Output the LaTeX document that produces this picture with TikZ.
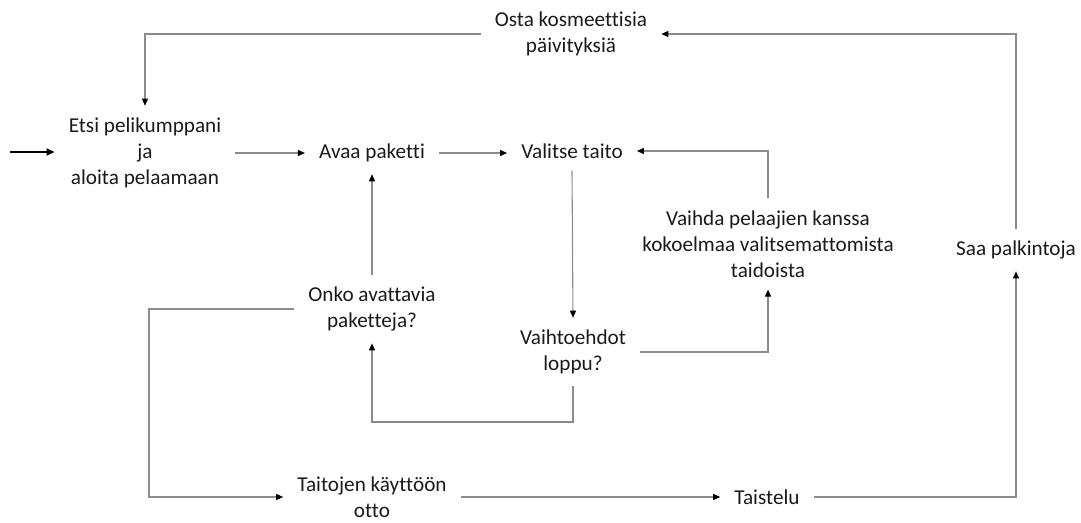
\documentclass[tikz,border=0pt]{standalone}
\usepackage{fontspec}
\setmainfont{Carlito}[Ligatures=CommonOff]
\usetikzlibrary{arrows.meta}
\definecolor{linegray}{HTML}{8C8C8C}
\definecolor{textblack}{HTML}{1A1A1A}
\tikzset{
  stepnode/.style={align=center, inner xsep=14pt, inner ysep=12pt, text=textblack, font=\fontsize{21.2}{26}\selectfont},
  conn/.style={draw=linegray, line width=1.1pt, -{Triangle[color=black, length=7pt, width=6pt]}}
}
\begin{document}
\begin{tikzpicture}[x=1pt, y=-1pt]
      \useasboundingbox (0,0) rectangle (1081,522);
      % Place the nodes
      \node[stepnode] (etsi) at (145,153) {Etsi pelikumppani\\ja\\aloita pelaamaan};
      \node[stepnode] (avaa) at (372,153) {Avaa paketti};
      \node[stepnode] (valitse) at (572,151) {Valitse taito};
      \node[stepnode] (osta) at (571,34) {Osta kosmeettisia\\päivityksiä};
      \node[stepnode] (vaihda) at (768,244) {Vaihda pelaajien kanssa\\kokoelmaa valitsemattomista\\taidoista};
      \node[stepnode] (saa) at (1016,250) {Saa palkintoja};
      \node[stepnode] (onko) at (372,309) {Onko avattavia\\paketteja?};
      \node[stepnode] (vaiht) at (573,352) {Vaihtoehdot\\loppu?};
      \node[stepnode] (taitojen) at (372,497) {Taitojen käyttöön\\otto};
      \node[stepnode] (taistelu) at (767,497) {Taistelu};
      % Corner points
      \coordinate (start) at (10,152);
      \coordinate (loopb) at (573,422);
      \coordinate (leftc) at (149,497);
      % Draw the arrows
      \draw[line width=1.7pt, -{Triangle[length=8pt, width=7pt]}] (start) -- (start -| etsi.west);
      \draw[conn] (etsi.east |- avaa) -- (avaa.west);
      \draw[conn] (avaa.east) -- (avaa.east -| valitse.west);
      \draw[conn] (valitse.south) -- (vaiht.north);
      \draw[conn] (vaiht.east) -| (vaihda.south);
      \draw[conn] (vaihda.north) |- (valitse.east);
      \draw[conn] (vaiht.south) -- (loopb) -| (onko.south);
      \draw[conn] (onko.north) -- (avaa.south);
      \draw[conn] (onko.west) -| (leftc) -- (taitojen.west |- leftc);
      \draw[conn] (taitojen.east |- taistelu) -- (taistelu.west);
      \draw[conn] (taistelu.east) -| (saa.south);
      \draw[conn] (saa.north) |- (osta.east);
      \draw[conn] (osta.west) -| (etsi.north);
\end{tikzpicture}
\end{document}
